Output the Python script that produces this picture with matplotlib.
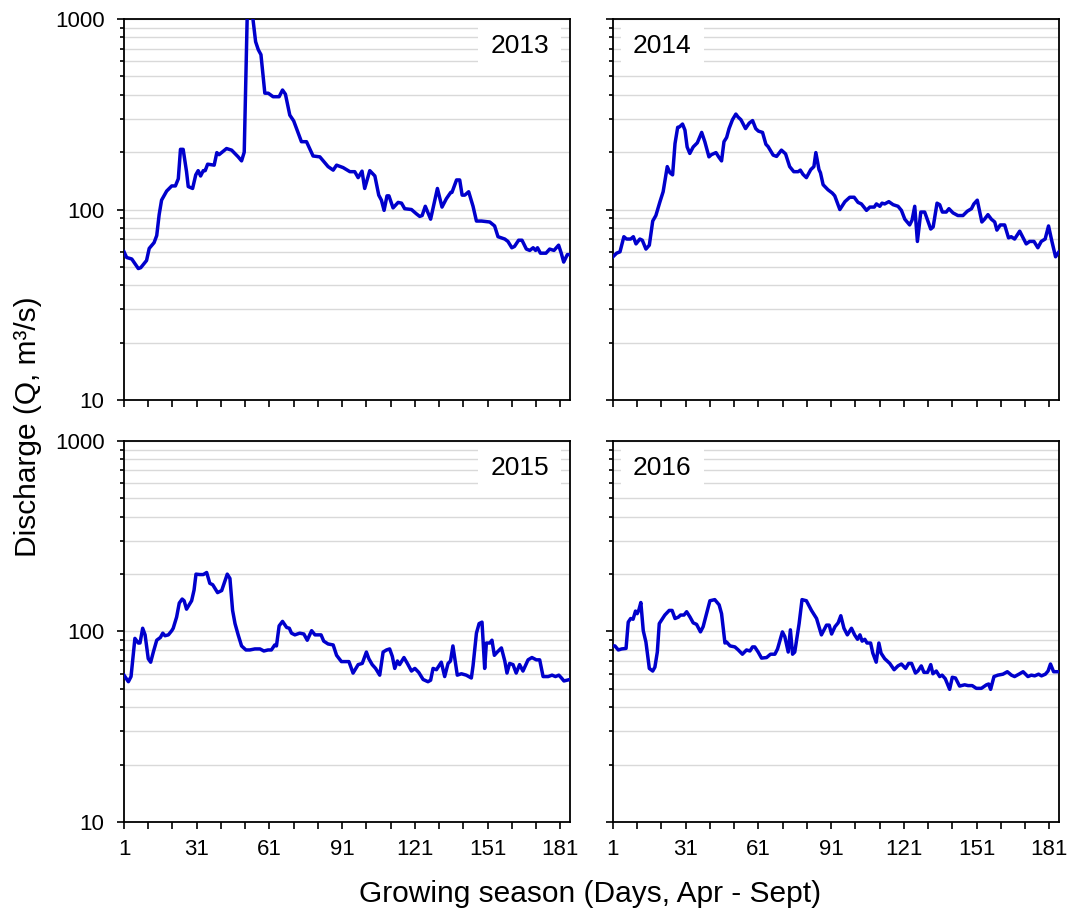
import matplotlib
matplotlib.use("Agg")
import matplotlib.pyplot as plt
from matplotlib.ticker import FixedLocator, NullFormatter

plt.rcParams['font.family'] = ['Liberation Sans', 'DejaVu Sans']

# daily discharge (day of season, Q in m3/s)
d13 = [1, 2.1, 4.2, 6.9, 7.9, 10.3, 11.4, 13.4, 14.5, 15.5, 16.5, 18.6, 20.7, 22.2, 23.4,
       24.3, 25.4, 26.8, 27.5, 29.3, 30.6, 31.6, 32.6, 33.7, 34.5, 35.5, 38.2, 39.3, 40.2, 43.3,
       45.4, 48.1, 49.5, 50.6, 52, 53, 54, 55.3, 56.4, 57.5, 59.1, 60.5, 62.5, 65, 66.4,
       67.6, 69.4, 71, 74.2, 76.3, 79, 81.8, 85.2, 87.3, 88.7, 91.4, 94.2, 96.2, 97.6, 99.2,
       100.3, 102.4, 104.5, 106.1, 107.2, 108.3, 109.5, 110.3, 112, 114.1, 115.5, 116.8, 119.6,
       121.6, 123, 124, 125.3, 127.5, 130.3, 132.2, 134, 135.8, 136.3, 138.2, 139.5, 140.5,
       141.6, 143.2, 145, 146.4, 148.5, 151.9, 153.9, 155.3, 158.1, 159.4, 161, 162.1, 163.8,
       165.2, 167, 168.4, 169.8, 170.8, 171.6, 172.8, 175.1, 176.6, 178.4, 180.3, 181.4, 182.4,
       183.9, 185]
q13 = [60, 56, 55, 49, 49.5, 54, 62.5, 67, 73, 94, 112, 125, 133, 133, 145,
       207, 207, 158, 132, 129, 152, 160, 150, 160, 160, 173, 171, 199, 194, 209,
       205, 189, 180, 200, 1300, 1400, 1050, 760, 690, 650, 408, 408, 391, 391, 424,
       403, 313, 292, 227, 227, 191, 189, 168, 161, 171, 166, 158, 158, 147, 159,
       129, 160, 150, 119, 112, 99, 118, 118, 102, 109, 108, 101, 100,
       95, 92, 93, 104, 89, 129, 103, 114, 123, 123, 143, 143, 119,
       119, 124, 104, 87, 87, 86, 82, 72, 70, 68, 63, 64, 69,
       69, 62, 61, 63, 61, 63, 59, 59, 62, 61, 65, 59, 53,
       58, 58]

d14 = [1, 2.5, 3.9, 5.5, 6.6, 8.3, 9.4, 10.5, 12.1, 13.1, 14.6, 16, 17.4, 18.7, 20.4,
       21.7, 23.4, 24.5, 25.6, 26.6, 27.7, 28.5, 29.7, 30.7, 31.6, 32.7, 34.1, 35.8, 37.6, 38.9,
       40.6, 41.6, 43.5, 44.6, 45.8, 46.8, 47.9, 48.9, 50.3, 51.7, 52.6, 53.8, 55.7, 57.2, 58.6,
       59.9, 61, 62.7, 64.1, 65, 67.1, 68.5, 70.5, 72.2, 73.9, 75.6, 77.4, 78.3, 79.4, 80.8,
       82.6, 83.9, 84.7, 86, 86.6, 87.7, 89.7, 91.5, 92.5, 94.6, 96.7, 98.7, 100.5, 102.1, 103.5,
       105.6, 107, 108.8, 109.7, 111.1, 112, 113.1, 114.8, 116.6, 118.6, 120, 121.4, 123.4,
       124.4, 125.5, 126.6, 128, 129.6, 132.1, 133.1, 134.7, 135.8, 136.9, 138.5, 139.6, 141.3,
       143.3, 145.4, 147.2, 148.9, 149.9, 151.3, 153.2, 154.3, 155.7, 157.1, 158.5, 159.4,
       160.8, 162.6, 164.2, 165.3, 166.7, 168.8, 170.2, 171.5, 172.9, 174.7, 176.3, 177.7,
       179.3, 180.7, 182.1, 183.6, 185]
q14 = [56.5, 59, 60, 72, 70, 70, 72, 66, 70, 69, 62, 65, 87, 93, 110,
       124, 168, 156, 152, 222, 270, 272, 281, 261, 213, 197, 213, 224, 254, 227,
       189, 194, 199, 189, 180, 227, 239, 266, 296, 317, 306, 296, 266, 284, 293,
       266, 258, 254, 220, 214, 193, 190, 205, 196, 168, 158, 158, 161, 153, 147,
       162, 168, 199, 162, 156, 135, 127, 122, 118, 100, 110, 116, 116, 109, 107,
       99, 103, 103, 107, 104, 108, 107, 110, 106, 104, 99, 89, 83,
       88, 104, 68, 97, 97, 79, 81, 108, 106, 97, 97, 101, 96,
       93, 93, 98, 101, 107, 112, 86, 89, 94, 89, 86, 78,
       83, 83, 71, 72, 70, 77, 71, 66, 68, 68, 63, 68,
       70, 82, 68, 56.5, 60]

d15 = [1, 2.8, 3.9, 5.5, 6.9, 7.6, 8.7, 9.7, 11, 12, 13.1, 14.5, 16, 17, 17.9,
       19.3, 20.7, 21.3, 22.7, 23.8, 25, 25.8, 26.8, 28.9, 29.9, 30.7, 32.3, 33.7, 35.1, 36.4,
       37.6, 39.6, 41.3, 42.4, 43.6, 44.7, 45.8, 46.8, 48.1, 49.5, 51.3, 52.9, 55, 57.1, 58.7,
       60.4, 61.8, 63.2, 63.9, 65, 66.4, 68.1, 69.2, 70.1, 71.5, 73.5, 75.2, 76.6, 78.4, 79.8,
       82.3, 83.4, 85.2, 87.3, 88.7, 90.7, 92.5, 93.8, 95.5, 97.6, 99.3, 101, 102, 103.4, 104.8,
       106.5, 107.9, 109.3, 110.6, 111.7, 112.7, 113.8, 114.7, 116.5, 117.9, 119.6, 121, 122.6,
       124.4, 126.4, 127.5, 128.5, 129.9, 130.6, 131.9, 133.3, 134.7, 135.7, 136.7, 138.5,
       140.2, 142.2, 144.3, 145, 146.4, 147.5, 148.7, 149.8, 150.5, 151.9, 152.8, 153.8, 155,
       156.7, 158.1, 159, 160.1, 161.5, 162.8, 164.2, 165.6, 167.7, 169.3, 171.1, 172.5, 173.9,
       176, 177.6, 179, 180.4, 181.5, 182.5, 185]
q15 = [59, 54.5, 58, 92, 87, 87, 104, 96, 72, 69, 78, 90, 93, 98, 95,
       96, 101, 104, 119, 141, 148, 145, 131, 145, 165, 200, 199, 199, 204, 179,
       176, 160, 164, 180, 200, 190, 129, 110, 96, 84, 80, 80, 81, 81, 79,
       80, 80, 85, 84, 107, 113, 105, 104, 98, 96, 98, 97, 90, 101, 96,
       96, 89, 86, 85, 75, 69.5, 69.5, 69.5, 60.5, 67, 68, 78, 72, 67, 64,
       59, 78, 80, 81, 74, 64, 70, 67, 73, 68, 62, 64, 61,
       56, 54.5, 55.5, 64, 63, 65, 69, 58, 68, 70, 84, 59,
       60, 59, 57, 66, 98, 110, 112, 64, 87, 87, 90, 75, 78,
       82, 70, 60.5, 68, 67, 60.5, 67, 62, 71, 73, 71, 71, 58,
       58, 59, 58, 59, 57, 55, 56]

d16 = [1, 1.8, 3.2, 4.6, 6.4, 7.3, 8.3, 9.3, 10.3, 11, 11.7, 12.5, 13.5, 14.6, 16,
       17.4, 18.3, 19.3, 20.1, 21.1, 22.4, 24.2, 25.4, 26.6, 28, 28.9, 30.3, 31.4, 32.8, 34.1,
       35.5, 37.1, 38.2, 39.6, 41, 43, 44.8, 45.8, 47.2, 47.9, 49.3, 51.3, 52.7, 54.4, 56.1,
       57.5, 58.6, 59.5, 60.9, 62.3, 64.4, 66, 67.8, 68.9, 70.9, 71.9, 73.3, 74.2, 75.1, 76,
       77.8, 79, 80.8, 82.9, 85, 87, 89.1, 90.2, 91.2, 92.6, 93.9, 95, 96.3, 97.7, 99.4,
       100.7, 101.9, 102.9, 103.8, 104.9, 105.8, 107.3, 108.2, 109.6, 110.7, 111.6, 113.1,
       115.2, 117, 118.6, 120, 121.7, 123, 124.2, 125.8, 126.8, 128.2, 129.3, 130.8, 132.1,
       133, 134.4, 135.8, 136.8, 138.1, 139.9, 141, 142.3, 144, 146.1, 147.5, 149.2, 150.9,
       153, 155.1, 156, 156.8, 158.2, 159.8, 161.9, 163.7, 165.4, 166.7, 168.8, 170.2, 172.2,
       173.6, 175, 176.6, 177.8, 179.4, 180.5, 181.5, 182.8, 185]
q16 = [84, 84, 80, 81, 81.5, 112, 117, 116, 128, 124, 130, 142, 101, 88, 64,
       62, 65, 78, 110, 115, 122, 129, 129, 117, 119, 122, 122, 127, 119, 111,
       109, 99.5, 106, 124, 145, 147, 138, 124, 87, 88, 84, 83, 80, 76, 80,
       79, 83, 83, 78, 72.5, 73, 76, 76, 81, 99.5, 94, 78, 102, 76, 78,
       110, 147, 145, 129, 117, 96, 108, 108, 97, 106, 111, 121, 104, 96, 104,
       96, 91, 96, 89, 91, 87, 87, 77, 69, 87, 77, 72,
       68, 63, 66, 67.5, 64, 68, 68, 60.5, 62, 66, 61, 61, 67,
       60, 62, 58, 59, 56.5, 49.7, 57.5, 57, 51.7, 52.5, 52, 52, 50.3,
       50.3, 52.5, 53, 49.7, 58, 59, 59.7, 61.5, 59, 58, 60, 61.5, 58,
       59, 58.5, 59.7, 58.5, 59.7, 62, 67.5, 61.5, 61.5]

years = ['2013', '2014', '2015', '2016']
series = [(d13, q13), (d14, q14), (d15, q15), (d16, q16)]

x_major = [1, 31, 61, 91, 121, 151, 181]
x_minor = [11, 21, 41, 51, 71, 81, 101, 111, 131, 141, 161, 171]
y_major = [10, 100, 1000]
y_minor = [20, 30, 40, 50, 60, 70, 80, 90, 200, 300, 400, 500, 600, 700, 800, 900]

fig = plt.figure(figsize=(10.69, 9.10), dpi=100)
positions = [[0.116, 0.5604, 0.4172, 0.4187],
             [0.5734, 0.5604, 0.4172, 0.4187],
             [0.116, 0.0967, 0.4172, 0.4187],
             [0.5734, 0.0967, 0.4172, 0.4187]]

for i, (pos, year, (d, q)) in enumerate(zip(positions, years, series)):
    ax = fig.add_axes(pos)
    ax.set_yscale('log')
    ax.set_xlim(1, 185)
    ax.set_ylim(10, 1000)

    ax.yaxis.set_major_locator(FixedLocator(y_major))
    ax.yaxis.set_minor_locator(FixedLocator(y_minor))
    ax.yaxis.set_minor_formatter(NullFormatter())
    ax.xaxis.set_major_locator(FixedLocator(x_major))
    ax.xaxis.set_minor_locator(FixedLocator(x_minor))

    ax.grid(True, which='both', axis='y', color='#d9d9d9', linewidth=1.0, zorder=0)
    ax.set_axisbelow(True)

    ax.plot(d, q, color='#0000CC', linewidth=2.5, zorder=3, clip_on=True)

    ax.tick_params(axis='both', which='major', direction='out', length=5, width=1.2,
                   labelsize=16)
    ax.tick_params(axis='y', which='major', pad=9)
    ax.tick_params(axis='x', which='major', pad=7)
    ax.tick_params(axis='y', which='minor', direction='out', length=3, width=1.2)
    ax.tick_params(axis='x', which='minor', direction='out', length=5, width=1.2)

    if i < 2:
        ax.tick_params(axis='x', labelbottom=False)
    else:
        ax.set_xticklabels([str(v) for v in x_major])
    if i % 2 == 1:
        ax.tick_params(axis='y', labelleft=False)
    else:
        ax.set_yticklabels([str(v) for v in y_major])

    for s in ax.spines.values():
        s.set_linewidth(1.3)
        s.set_color('black')

    if i % 2 == 0:
        ax.text(0.953, 0.928, year, transform=ax.transAxes, ha='right', va='center',
                fontsize=19, zorder=4,
                bbox=dict(facecolor='white', edgecolor='none', pad=9))
    else:
        ax.text(0.045, 0.928, year, transform=ax.transAxes, ha='left', va='center',
                fontsize=19, zorder=4,
                bbox=dict(facecolor='white', edgecolor='none', pad=9))

fig.text(0.026, 0.531, 'Discharge (Q, m\u00b3/s)', rotation=90, ha='center', va='center',
         fontsize=21.5)
fig.text(0.552, 0.018, 'Growing season (Days, Apr - Sept)', ha='center', va='center',
         fontsize=21.5)

fig.savefig('out.png', dpi=100)
